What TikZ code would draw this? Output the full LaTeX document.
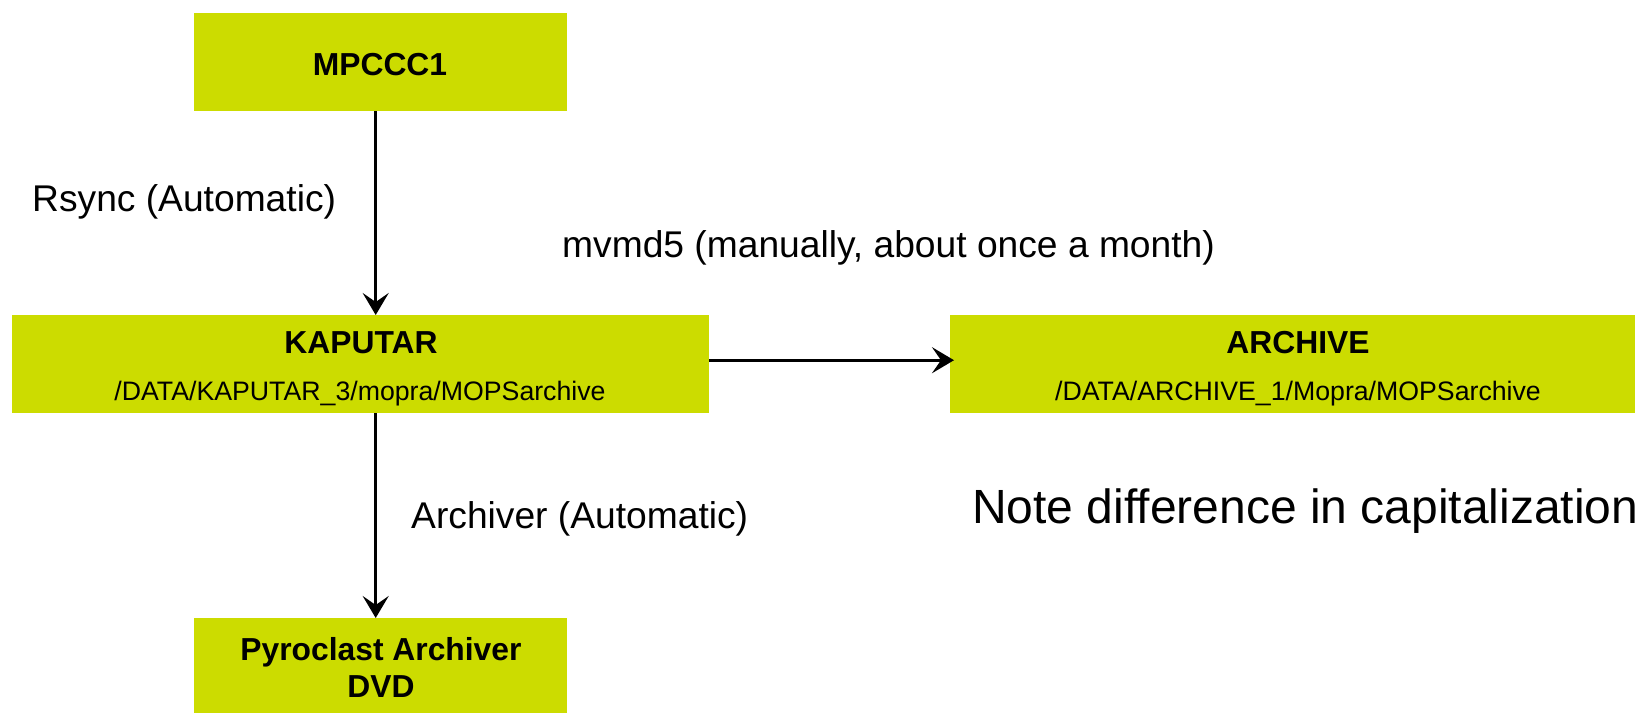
\documentclass[tikz,border=0pt]{standalone}
\usepackage{fontspec}
\setmainfont{Liberation Sans}
\usetikzlibrary{arrows.meta}
\definecolor{boxgreen}{RGB}{204,220,0}
\begin{document}
\begin{tikzpicture}[x=1pt,y=-1pt,
  box/.style={fill=boxgreen,draw=none,inner sep=0pt,anchor=north west},
  ttl/.style={font=\fontsize{31.8}{35}\selectfont\bfseries,anchor=base,inner sep=0pt},
  pth/.style={font=\fontsize{26.7}{30}\selectfont,anchor=base,inner sep=0pt},
  lbl/.style={font=\fontsize{37.2}{42}\selectfont,anchor=base west,inner sep=0pt},
  arr/.style={line width=2.6pt,-{Stealth[length=22pt,width=26pt,inset=9pt]}}]
\useasboundingbox (0,0) rectangle (1635,712);
% boxes
\node[box,minimum width=373pt,minimum height=98pt] (m) at (194,13) {};
\node[box,minimum width=697pt,minimum height=98pt] (k) at (12,315) {};
\node[box,minimum width=697pt,minimum height=98pt] (a) at (950,315) {};
\node[box,minimum width=373pt,minimum height=98pt] (p) at (194,618) {};
% box texts
\node[ttl] (mt) at (380,75) {MPCCC1};
\node[ttl] (kt) at (361,353) {KAPUTAR};
\node[pth] (kp) at (360,400) {/DATA/KAPUTAR\_3/mopra/MOPSarchive};
\node[ttl] (at) at (1298,353) {ARCHIVE};
\node[pth] (ap) at (1298,400) {/DATA/ARCHIVE\_1/Mopra/MOPSarchive};
\node[ttl] (pt1) at (381,660) {Pyroclast Archiver};
\node[ttl] (pt2) at (381,697) {DVD};
% connectors
\draw[arr] ([xshift=-5pt]m.south) -- ([xshift=-5pt]m.south |- k.north);
\draw[arr] ([xshift=-5pt]m.south |- k.south) -- ([xshift=-5pt]m.south |- p.north);
\draw[arr] ([yshift=4pt]k.east) -- ([yshift=4pt,xshift=4pt]a.west);
% labels
\node[lbl] (l1) at (32,211) {Rsync (Automatic)};
\node[lbl] (l2) at (562,257) {mvmd5 (manually, about once a month)};
\node[lbl] (l3) at (411,528) {Archiver (Automatic)};
\node[lbl,font=\fontsize{48}{54}\selectfont] (l4) at (972,523) {Note difference in capitalization};
\end{tikzpicture}
\end{document}
